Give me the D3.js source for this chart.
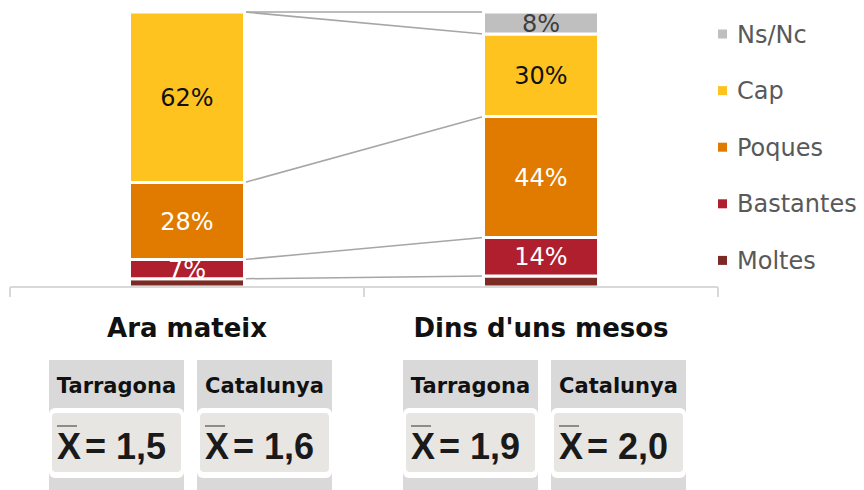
<!DOCTYPE html>
<html>
<head>
<meta charset="utf-8">
<script src="https://cdn.jsdelivr.net/npm/d3@7"></script>
<style>
  body { margin: 0; background: #fff; }
  svg { display: block; }
</style>
</head>
<body>
<div id="chart"></div>
<script>
var svgWidth = 864;
var svgHeight = 490;

// data
var categories = ["Ara mateix", "Dins d'uns mesos"];
var seriesNames = ["Moltes", "Bastantes", "Poques", "Cap", "Ns/Nc"];
var moltes = [3, 4];
var bastantes = [7, 14];
var poques = [28, 44];
var cap = [62, 30];
var nsnc = [0, 8];
var colors = ["#7b2b23", "#b01f2e", "#e07b00", "#fec31f", "#bfbfbf"];
var labelColors = [null, "#ffffff", "#ffffff", "#111111", "#404040"];

var boxPlaces = ["Tarragona", "Catalunya", "Tarragona", "Catalunya"];
var boxMeans = ["1,5", "1,6", "1,9", "2,0"];

var seriesValues = [moltes, bastantes, poques, cap, nsnc];

var table = categories.map(function(c, i) {
  var row = { cat: c };
  seriesNames.forEach(function(s, j) { row[s] = seriesValues[j][i]; });
  return row;
});

var stack = d3.stack().keys(seriesNames)(table);

var svg = d3.select("#chart").append("svg")
  .attr("width", svgWidth)
  .attr("height", svgHeight);

var x = d3.scaleBand()
  .domain(categories)
  .range([10, 718])
  .paddingInner(0)
  .paddingOuter(0);

var y = d3.scaleLinear()
  .domain([0, 100])
  .range([287, 12]);

var barW = 115;
function barLeft(cat) { return x(cat) + x.bandwidth() / 2 - barW / 2; }

// series lines between the two bars
stack.forEach(function(layer) {
  svg.append("line")
    .attr("x1", barLeft(categories[0]) + barW)
    .attr("x2", barLeft(categories[1]))
    .attr("y1", y(layer[0][1]))
    .attr("y2", y(layer[1][1]))
    .attr("stroke", "#a6a6a6")
    .attr("stroke-width", 1.5);
});

var layers = svg.selectAll("g.layer")
  .data(stack)
  .enter().append("g")
  .attr("class", "layer")
  .attr("fill", function(d, i) { return colors[i]; });

layers.selectAll("rect")
  .data(function(d) { return d; })
  .enter().append("rect")
  .attr("x", function(d) { return barLeft(d.data.cat); })
  .attr("width", barW)
  .attr("y", function(d) { return y(d[1]); })
  .attr("height", function(d) { return y(d[0]) - y(d[1]); })
  .attr("stroke", "#fff")
  .attr("stroke-width", 3);

// labels in segments (none for Moltes or empty values)
stack.forEach(function(layer, i) {
  if (!labelColors[i]) return;
  layer.forEach(function(d) {
    var v = d[1] - d[0];
    if (v <= 0) return;
    svg.append("text")
      .attr("x", barLeft(d.data.cat) + barW / 2)
      .attr("y", (y(d[0]) + y(d[1])) / 2)
      .attr("dy", "0.36em")
      .attr("text-anchor", "middle")
      .attr("font-family", "DejaVu Sans")
      .attr("font-size", 24)
      .attr("fill", labelColors[i])
      .text(v + "%");
  });
});

// category axis
svg.append("line")
  .attr("x1", 10).attr("x2", 718)
  .attr("y1", 287).attr("y2", 287)
  .attr("stroke", "#d9d9d9").attr("stroke-width", 2);

var tickXs = [x(categories[0]), x(categories[1]), x(categories[1]) + x.bandwidth()];
tickXs.forEach(function(t) {
  svg.append("line")
    .attr("x1", t).attr("x2", t)
    .attr("y1", 287).attr("y2", 297)
    .attr("stroke", "#d9d9d9").attr("stroke-width", 2);
});

svg.selectAll("text.cat")
  .data(categories)
  .enter().append("text")
  .attr("class", "cat")
  .attr("x", function(d) { return x(d) + x.bandwidth() / 2; })
  .attr("y", 337)
  .attr("text-anchor", "middle")
  .attr("font-family", "DejaVu Sans")
  .attr("font-weight", "bold")
  .attr("font-size", 26)
  .attr("fill", "#111")
  .text(function(d) { return d; });

// legend
var legendNames = seriesNames.slice().reverse();
var legendColors = colors.slice().reverse();
var legend = svg.selectAll("g.legend")
  .data(legendNames)
  .enter().append("g")
  .attr("class", "legend")
  .attr("transform", function(d, i) { return "translate(718," + (34 + i * 56.6) + ")"; });

legend.append("rect")
  .attr("x", 0).attr("y", -4.5)
  .attr("width", 9).attr("height", 9)
  .attr("fill", function(d, i) { return legendColors[i]; });

legend.append("text")
  .attr("x", 19)
  .attr("y", 0)
  .attr("dy", "0.36em")
  .attr("font-family", "DejaVu Sans")
  .attr("font-size", 24)
  .attr("fill", "#595959")
  .text(function(d) { return d; });

// mean boxes under each category
var boxW = 135;
var boxes = svg.selectAll("g.box")
  .data(boxPlaces)
  .enter().append("g")
  .attr("class", "box")
  .attr("transform", function(d, i) {
    var c = x(categories[Math.floor(i / 2)]) + x.bandwidth() / 2;
    var bx = (i % 2 === 0) ? c - 138 : c + 10;
    return "translate(" + bx + ",0)";
  });

boxes.append("rect")
  .attr("x", 0).attr("y", 360)
  .attr("width", boxW).attr("height", 140)
  .attr("fill", "#d9d9d9");

boxes.append("text")
  .attr("x", boxW / 2)
  .attr("y", 393)
  .attr("text-anchor", "middle")
  .attr("font-family", "DejaVu Sans")
  .attr("font-weight", "bold")
  .attr("font-size", 21)
  .attr("fill", "#111")
  .text(function(d) { return d; });

boxes.append("rect")
  .attr("x", 0).attr("y", 408)
  .attr("width", boxW).attr("height", 70)
  .attr("rx", 6)
  .attr("fill", "#ffffff");

boxes.append("rect")
  .attr("x", 3).attr("y", 413)
  .attr("width", boxW - 6).attr("height", 59)
  .attr("rx", 4)
  .attr("fill", "#e8e6e2");

boxes.append("text")
  .attr("x", 8)
  .attr("y", 459)
  .attr("font-family", "Liberation Sans")
  .attr("font-weight", "bold")
  .attr("font-size", 36)
  .attr("fill", "#1a1a1a")
  .text("X");

boxes.append("line")
  .attr("x1", 8).attr("x2", 28)
  .attr("y1", 426).attr("y2", 426)
  .attr("stroke", "#8c8c8c").attr("stroke-width", 2);

boxes.append("text")
  .attr("x", 36)
  .attr("y", 459)
  .attr("font-family", "Liberation Sans")
  .attr("font-weight", "bold")
  .attr("font-size", 36)
  .attr("fill", "#1a1a1a")
  .text(function(d, i) { return "= " + boxMeans[i]; });
</script>
</body>
</html>
